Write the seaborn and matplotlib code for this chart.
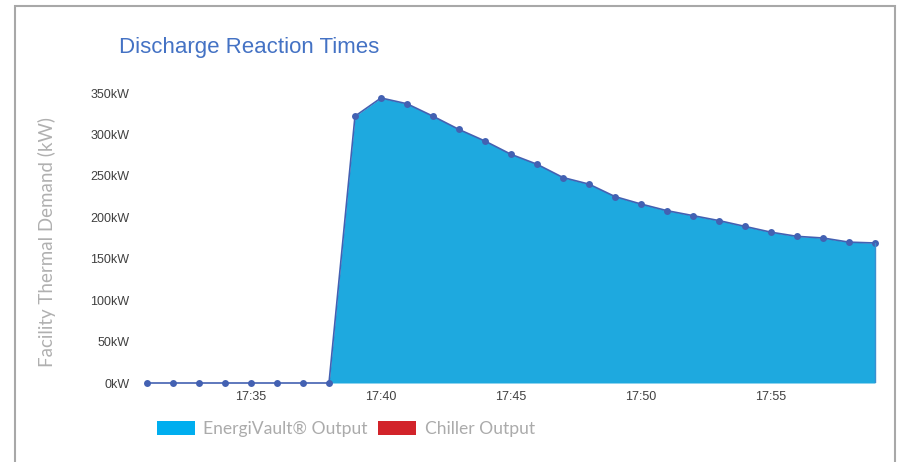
import matplotlib
matplotlib.use("Agg")
import matplotlib.pyplot as plt
from matplotlib.patches import Patch, Rectangle
import seaborn as sns
import pandas as pd

# data
times = ["17:31", "17:32", "17:33", "17:34", "17:35", "17:36", "17:37", "17:38",
         "17:39", "17:40", "17:41", "17:42", "17:43", "17:44", "17:45", "17:46",
         "17:47", "17:48", "17:49", "17:50", "17:51", "17:52", "17:53", "17:54",
         "17:55", "17:56", "17:57", "17:58", "17:59"]
energivault_kw = [0, 0, 0, 0, 0, 0, 0, 0,
                  322, 344, 337, 322, 306, 292, 276, 264,
                  248, 240, 225, 216, 208, 202, 196, 189,
                  182, 177, 175, 170, 169]
chiller_kw = [0] * len(times)
tick_labels = ["17:35", "17:40", "17:45", "17:50", "17:55"]
ytick_values = [0, 50, 100, 150, 200, 250, 300, 350]

df = pd.DataFrame({"time": times, "energivault": energivault_kw, "chiller": chiller_kw})
df["minute"] = df["time"].str.split(":").apply(lambda t: int(t[1]))

sns.set_style("white")
plt.rcParams["font.family"] = ["Liberation Sans", "DejaVu Sans"]

W, H = 899, 462
fig = plt.figure(figsize=(W / 100, H / 100), dpi=100)
ax = fig.add_axes([135 / W, (H - 383) / H, 745 / W, 290 / H])

fill_color = "#1EA9DF"
line_color = "#4361B2"

ax.fill_between(df["minute"], df["chiller"], df["chiller"] + df["energivault"],
                color=fill_color, linewidth=0)
sns.lineplot(data=df, x="minute", y="energivault", ax=ax, color=line_color,
             linewidth=1.2, marker="o", markersize=5, markeredgewidth=0,
             clip_on=False)
ax.plot([df["minute"].iloc[-1]] * 2, [0, df["energivault"].iloc[-1]],
        color="#3B8FD0", linewidth=1)

ax.set_xlim(40 + (135 - 381) / 26, 40 + (880 - 381) / 26)
ax.set_ylim(0, 350)
ax.set_xticks([int(t.split(":")[1]) for t in tick_labels])
ax.set_xticklabels(tick_labels)
ax.set_yticks(ytick_values)
ax.set_yticklabels([f"{v}kW" for v in ytick_values])
ax.tick_params(axis="both", length=0, labelsize=9, colors="#404040")
ax.tick_params(axis="y", pad=4)
ax.tick_params(axis="x", pad=6)
ax.set_xlabel("")
ax.set_ylabel("")
sns.despine(ax=ax, left=True, bottom=True)

fig.text(119 / W, 1 - 53 / H, "Discharge Reaction Times", fontsize=16,
         color="#4472C4", va="baseline", ha="left")
fig.text(47 / W, 1 - 242 / H, "Facility Thermal Demand (kW)", rotation=90,
         fontsize=13.5, color="#B0B0B0", va="center", ha="center",
         family=["Lato", "DejaVu Sans"], fontweight="normal")

handles = [Patch(facecolor="#00AEEF", edgecolor="none", label="EnergiVault\u00ae Output"),
           Patch(facecolor="#D2232A", edgecolor="none", label="Chiller Output")]
leg = fig.legend(handles=handles, loc="center left", bbox_to_anchor=(150 / W, 1 - 429 / H),
                 ncol=2, frameon=False, handlelength=2.15, handleheight=0.85,
                 handletextpad=0.5, columnspacing=0.6, borderaxespad=0,
                 prop={"family": ["Lato", "DejaVu Sans"], "weight": "normal", "size": 12.6})
for t in leg.get_texts():
    t.set_color("#ABABAB")

fig.patches.append(Rectangle((15 / W, -0.1), 880 / W, 1.1 - 6 / H,
                             transform=fig.transFigure, fill=False,
                             edgecolor="#A8A8A8", linewidth=1.5))

fig.savefig("out.png", dpi=100)
